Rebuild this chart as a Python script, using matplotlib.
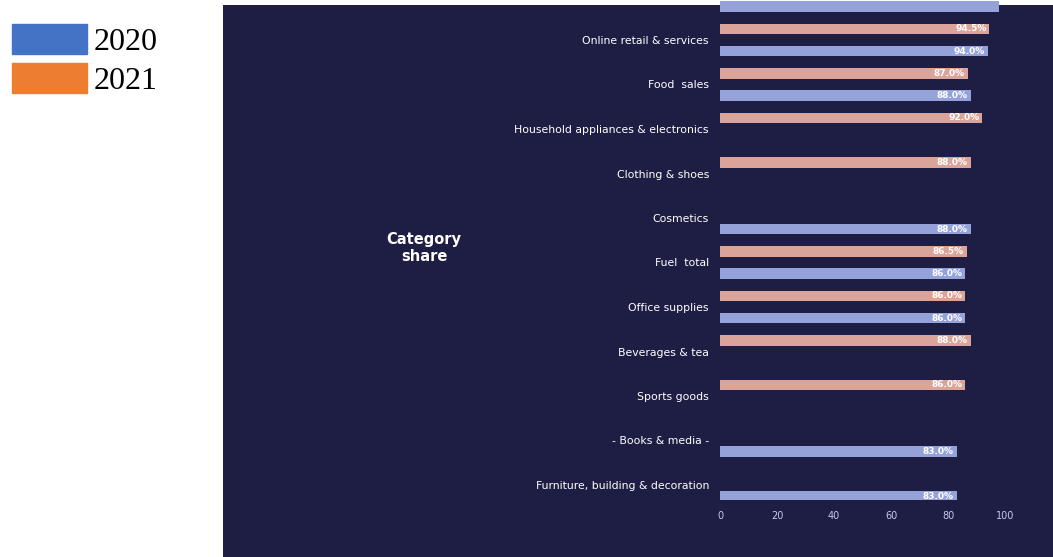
import numpy as np
import matplotlib
matplotlib.use('Agg')
import matplotlib.pyplot as plt
from matplotlib.patches import Patch

####################
# Data (top to bottom)
categories = ['Top group', 'Online retail & services', 'Food  sales', 'Household appliances & electronics',
              'Clothing & shoes', 'Cosmetics', 'Fuel  total', 'Office supplies', 'Beverages & tea',
              'Sports goods', '- Books & media -', 'Furniture, building & decoration']
v2020 = [98.0, 94.0, 88.0, np.nan, np.nan, 88.0, 86.0, 86.0, np.nan, np.nan, 83.0, 83.0]
v2021 = [97.0, 94.5, 87.0, 92.0, 88.0, np.nan, 86.5, 86.0, 88.0, 86.0, np.nan, np.nan]
xticks = [0, 20, 40, 60, 80, 100]

c2020_legend = '#4472C4'
c2021_legend = '#ED7D31'
c2020_bar = '#95a2da'
c2021_bar = '#dba49a'
bg = '#1e1e44'

W, H = 1053, 557
fig = plt.figure(figsize=(W / 100, H / 100), dpi=100)

####################
# Dark panel
panel = fig.add_axes([223 / W, 0, 1 - 223 / W, 1 - 5 / H])
panel.set_facecolor(bg)
panel.set_xticks([])
panel.set_yticks([])
for s in panel.spines.values():
    s.set_visible(False)

panel.text((424 - 223) / (W - 223), 1 - (248 - 5) / (H - 5), 'Category\nshare', color='white',
           fontsize=10.5, fontweight='bold', ha='center', va='center', transform=panel.transAxes)

####################
# Bars
ax = fig.add_axes([720 / W, 57 / H, 285 / W, 1 - 57 / H])
ax.set_facecolor('none')
pos = np.arange(len(categories))
h = 0.24
ax.barh(pos - 0.25, v2021, height=h, color=c2021_bar)
ax.barh(pos + 0.25, v2020, height=h, color=c2020_bar)

# value labels (the top group is cut off by the frame, so it has none)
for p, a, b in zip(pos[1:], v2021[1:], v2020[1:]):
    if not np.isnan(a):
        ax.text(a - 1, p - 0.25, f'{a:.1f}%', color='white', fontsize=6.5, ha='right', va='center',
                fontweight='bold')
    if not np.isnan(b):
        ax.text(b - 1, p + 0.25, f'{b:.1f}%', color='white', fontsize=6.5, ha='right', va='center',
                fontweight='bold')

ax.set_xlim(0, 100)
ax.set_ylim((500 - 40) / 44.5 + 1, (0 - 40) / 44.5 + 1)
ax.set_yticks(pos[1:])
ax.set_yticklabels(categories[1:], color='white', fontsize=7.8)
ax.set_xticks(xticks)
ax.set_xticklabels([str(t) for t in xticks], color='#c8c8f0', fontsize=7)
ax.tick_params(length=0, pad=8)
for s in ax.spines.values():
    s.set_visible(False)

####################
# Legend
handles = [Patch(color=c2020_legend), Patch(color=c2021_legend)]
leg = fig.legend(handles, ['2020', '2021'], loc='upper left', bbox_to_anchor=(12 / W, 1 - 24 / H),
                 frameon=False, borderpad=0, borderaxespad=0,
                 prop={'family': 'Liberation Serif', 'size': 23},
                 handlelength=2.34, handleheight=1.05, handletextpad=0.2, labelspacing=0.2)

fig.savefig('out.png', dpi=100)
